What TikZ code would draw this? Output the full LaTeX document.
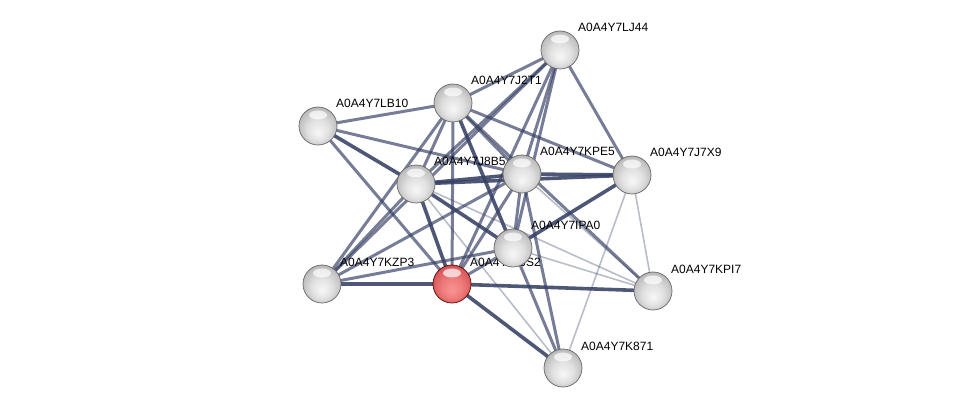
\documentclass[tikz,border=0pt]{standalone}
\usepackage{fontspec}
\setmainfont{Liberation Sans}
\definecolor{edgec}{RGB}{55,64,100}
\pgfdeclareradialshading{graysphere}{\pgfpoint{0bp}{-9bp}}{color(0bp)=(black!3); color(14bp)=(black!12); color(26bp)=(black!26); color(32bp)=(black!42); color(36bp)=(black!55)}
\pgfdeclareradialshading{redsphere}{\pgfpoint{0bp}{-9bp}}{color(0bp)=(rgb,255:red,250;green,148;blue,148); color(14bp)=(rgb,255:red,238;green,122;blue,122); color(26bp)=(rgb,255:red,215;green,88;blue,88); color(32bp)=(rgb,255:red,190;green,62;blue,62); color(36bp)=(rgb,255:red,160;green,42;blue,42)}
\tikzset{
  sph/.style={circle, minimum size=38pt, inner sep=0pt, shading=graysphere, draw=black!60, line width=0.7pt,
    path picture={\fill[white,opacity=0.7] ([yshift=11pt]path picture bounding box.center) ellipse (9pt and 4.5pt);}},
  redsph/.style={sph, shading=redsphere, draw=red!35!black},
  lab/.style={anchor=base west, inner sep=0pt, font=\fontsize{12}{13}\selectfont, text=black},
  strong/.style={draw=edgec, line width=3.6pt, opacity=0.88},
  mid/.style={draw=edgec, line width=3pt, opacity=0.68},
  weak/.style={draw=edgec, line width=1.6pt, opacity=0.35}
}
\begin{document}
\begin{tikzpicture}[x=1pt,y=-1pt]
\useasboundingbox (0,0) rectangle (975,414);
% node positions
\coordinate (pLJ) at (560,50);
\coordinate (pJ2) at (453,103);
\coordinate (pLB) at (318,126);
\coordinate (pJ8) at (416,184);
\coordinate (pKPE) at (522,174);
\coordinate (pJ7) at (632,175);
\coordinate (pIPA) at (513,248);
\coordinate (pKZP) at (322,284);
\coordinate (pS2) at (452,284);
\coordinate (pKPI) at (653,291);
\coordinate (pK871) at (563,368);
% edges
\draw[mid] (pLJ) -- (pJ2);
\draw[mid] (pLJ) -- (pJ8);
\draw[mid] (pLJ) -- (pKZP);
\draw[mid] (pLJ) -- (pKPE);
\draw[mid] (pLJ) -- (pIPA);
\draw[mid] (pLJ) -- (pS2);
\draw[mid] (pLJ) -- (pJ7);
\draw[mid] (pJ2) -- (pLB);
\draw[mid] (pJ2) -- (pJ8);
\draw[mid] (pJ2) -- (pKZP);
\draw[mid] (pJ2) -- (pS2);
\draw[mid] (pJ2) -- (pKPE);
\draw[strong] (pJ2) -- (pIPA);
\draw[mid] (pJ2) -- (pJ7);
\draw[mid] (pJ2) -- (pKPI);
\draw[strong] (pLB) -- (pJ8);
\draw[mid] (pLB) -- (pKPE);
\draw[mid] (pLB) -- (pS2);
\draw[strong] (pJ8) -- (pKPE);
\draw[strong] (pJ8) -- (pJ7);
\draw[mid] (pJ8) -- (pKZP);
\draw[strong] (pJ8) -- (pS2);
\draw[strong] (pJ8) -- (pIPA);
\draw[weak] (pJ8) -- (pKPI);
\draw[weak] (pJ8) -- (pK871);
\draw[strong] (pKPE) -- (pJ7);
\draw[mid] (pKPE) -- (pIPA);
\draw[mid] (pKPE) -- (pS2);
\draw[mid] (pKPE) -- (pKZP);
\draw[mid] (pKPE) -- (pK871);
\draw[weak] (pKPE) -- (pKPI);
\draw[strong] (pJ7) -- (pIPA);
\draw[weak] (pJ7) -- (pKPI);
\draw[weak] (pJ7) -- (pK871);
\draw[mid] (pIPA) -- (pS2);
\draw[mid] (pIPA) -- (pKZP);
\draw[weak] (pIPA) -- (pKPI);
\draw[mid] (pIPA) -- (pK871);
\draw[strong] (pS2) -- (pKZP);
\draw[strong] (pS2) -- (pKPI);
\draw[strong] (pS2) -- (pK871);
% labels
\node[lab] (tLJ) at ([shift={(18,-18)}]pLJ) {A0A4Y7LJ44};
\node[lab] (tJ2) at ([shift={(18,-18)}]pJ2) {A0A4Y7J2T1};
\node[lab] (tLB) at ([shift={(18,-18)}]pLB) {A0A4Y7LB10};
\node[lab] (tJ8) at ([shift={(18,-18)}]pJ8) {A0A4Y7J8B5};
\node[lab] (tKPE) at ([shift={(18,-18)}]pKPE) {A0A4Y7KPE5};
\node[lab] (tJ7) at ([shift={(18,-18)}]pJ7) {A0A4Y7J7X9};
\node[lab] (tS2) at ([shift={(18,-18)}]pS2) {A0A4Y7JJS2};
\node[lab] (tIPA) at ([shift={(18,-18)}]pIPA) {A0A4Y7IPA0};
\node[lab] (tKZP) at ([shift={(18,-18)}]pKZP) {A0A4Y7KZP3};
\node[lab] (tKPI) at ([shift={(18,-18)}]pKPI) {A0A4Y7KPI7};
\node[lab] (tK871) at ([shift={(18,-18)}]pK871) {A0A4Y7K871};
% nodes
\node[sph] (LJ) at (pLJ) {};
\node[sph] (J2) at (pJ2) {};
\node[sph] (LB) at (pLB) {};
\node[sph] (J8) at (pJ8) {};
\node[sph] (KPE) at (pKPE) {};
\node[sph] (J7) at (pJ7) {};
\node[redsph] (S2) at (pS2) {};
\node[sph] (IPA) at (pIPA) {};
\node[sph] (KZP) at (pKZP) {};
\node[sph] (KPI) at (pKPI) {};
\node[sph] (K871) at (pK871) {};
\end{tikzpicture}
\end{document}
